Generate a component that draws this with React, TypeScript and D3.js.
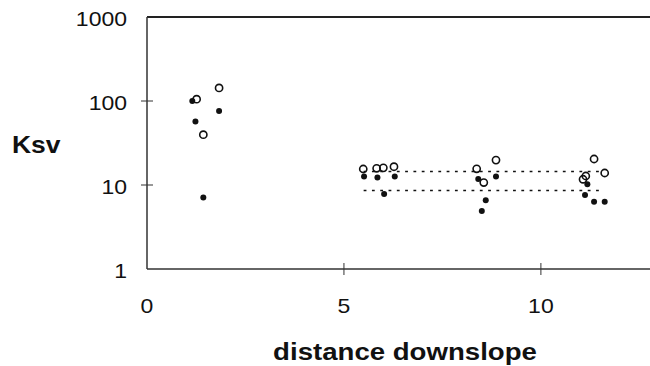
import React from "react";
import * as d3 from "d3";

// distance downslope (x) and Ksv (y) values
const filledX = [1.15, 1.23, 1.83, 1.43, 5.51, 5.85, 6.29, 6.02, 8.41, 8.86, 8.6, 8.5, 11.18, 11.12, 11.35, 11.62];
const filledY = [100, 57, 76, 7.1, 12.6, 12.3, 12.6, 7.8, 11.8, 12.6, 6.6, 4.9, 10.2, 7.6, 6.3, 6.3];
const openX = [1.83, 1.26, 1.43, 5.49, 5.83, 6.0, 6.27, 8.37, 8.86, 8.55, 11.35, 11.62, 11.14, 11.07];
const openY = [143, 105, 39.7, 15.5, 15.8, 16, 16.5, 15.6, 19.8, 10.7, 20.4, 13.9, 12.8, 11.7];
const refLineX = [5.5, 11.55];
const refLineY = [14.5, 8.6];
const xTicks = [0, 5, 10];
const yTicks = [1, 10, 100, 1000];

const W = 650;
const H = 366;
const SX = 1.15;

export default function App() {
  const x = d3.scaleLinear().domain([0, 12.77]).range([147, 650]);
  const y = d3.scaleLog().domain([1, 1000]).range([269, 17]);
  const font = "'Liberation Sans', Arial, Helvetica, sans-serif";
  const ink = "#111";

  const T = (props: { x: number; y: number; anchor: string; size: number; bold?: boolean; children: React.ReactNode }) => (
    <text
      transform={`translate(${props.x},${props.y}) scale(${SX},1)`}
      textAnchor={props.anchor as any}
      fontFamily={font}
      fontSize={props.size}
      fontWeight={props.bold ? "bold" : "normal"}
      fill={ink}
    >
      {props.children}
    </text>
  );

  const x0 = x.range()[0];
  const x1 = x.range()[1];
  return (
    <svg width={W} height={H} style={{ position: "absolute", left: 0, top: 0, background: "#fff" }}>
      {/* frame */}
      <line x1={x0} x2={x1} y1={y(1000)} y2={y(1000)} stroke="#222" strokeWidth={2} />
      <line x1={x0} x2={x0} y1={y(1000)} y2={y(1)} stroke="#333" strokeWidth={1.5} />
      <line x1={x0} x2={x1} y1={y(1)} y2={y(1)} stroke="#333" strokeWidth={1.5} />
      {yTicks.filter((t) => t > 1 && t < 1000).map((t) => (
        <line key={"yt" + t} x1={x0 - 6} x2={x0 + 6} y1={y(t)} y2={y(t)} stroke="#333" strokeWidth={1} />
      ))}
      {xTicks.filter((t) => t > 0).map((t) => (
        <line key={"xt" + t} x1={x(t)} x2={x(t)} y1={y(1) - 6} y2={y(1) + 6} stroke="#333" strokeWidth={1} />
      ))}
      {yTicks.map((t) => (
        <T key={"yl" + t} x={127} y={y(t) + 8.5} anchor="end" size={20}>
          {String(t)}
        </T>
      ))}
      {xTicks.map((t) => (
        <T key={"xl" + t} x={x(t)} y={313} anchor="middle" size={20}>
          {String(t)}
        </T>
      ))}
      <T x={12} y={153} anchor="start" size={23} bold>
        Ksv
      </T>
      <T x={405} y={360} anchor="middle" size={24} bold>
        distance downslope
      </T>
      {/* reference lines */}
      {refLineY.map((v, i) => (
        <line
          key={"rl" + i}
          x1={x(refLineX[0])}
          x2={x(refLineX[1])}
          y1={y(v)}
          y2={y(v)}
          stroke={ink}
          strokeWidth={1.4}
          strokeDasharray="2.8,5.5"
        />
      ))}
      {/* open markers */}
      {openX.map((v, i) => (
        <circle key={"o" + i} cx={x(v)} cy={y(openY[i])} r={3.6} fill="none" stroke={ink} strokeWidth={1.6} />
      ))}
      {/* filled markers */}
      {filledX.map((v, i) => (
        <circle key={"f" + i} cx={x(v)} cy={y(filledY[i])} r={3} fill={ink} />
      ))}
    </svg>
  );
}
